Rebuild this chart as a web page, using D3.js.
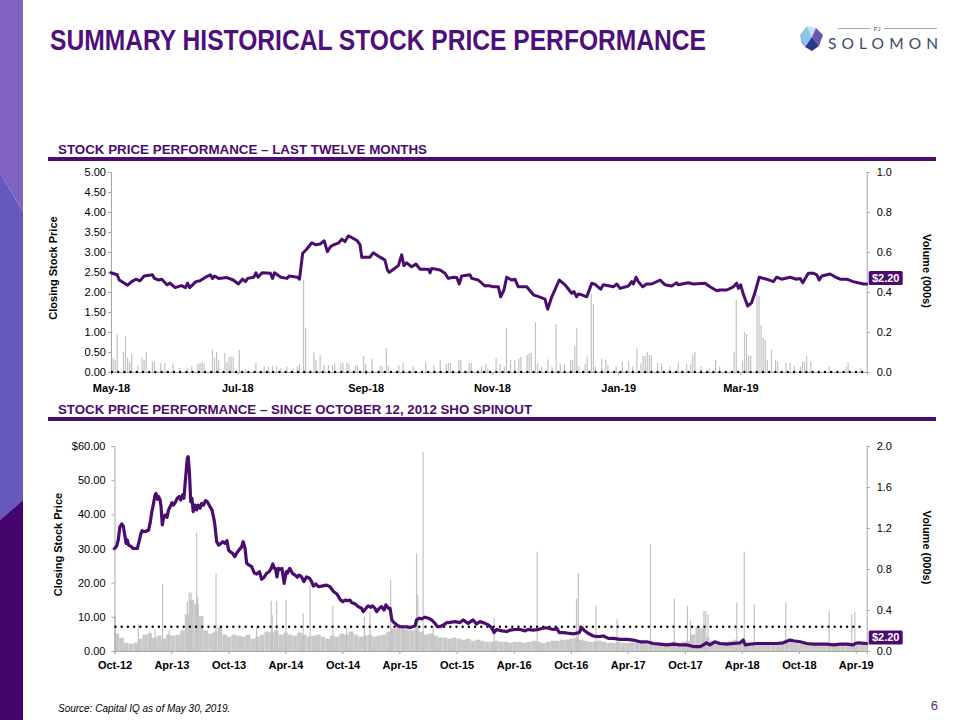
<!DOCTYPE html>
<html><head><meta charset="utf-8">
<script src="https://cdn.jsdelivr.net/npm/d3@7"></script>
<style>
body{margin:0;background:#fff}
svg{display:block}
text{font-family:Arial,"Liberation Sans",Helvetica,sans-serif}
</style>
</head><body>
<svg id="c" width="960" height="720"></svg>
<script>
// ---------------- DATA ----------------
const ltmStart = "2018-05-30", ltmEnd = "2019-05-30";
const ltmTickDates = ["2018-05-30","2018-07-30","2018-09-30","2018-11-30","2019-01-30","2019-03-30"];
const ltmPriceTicks = [0,0.5,1,1.5,2,2.5,3,3.5,4,4.5,5];
const ltmVolTicks = [0,0.2,0.4,0.6,0.8,1.0];
const ltmRefPrice = 0;
// [days since ltmStart, closing price]
const ltmPrice = [[0,2.48],[3,2.43],[4,2.30],[8,2.17],[10,2.26],[12,2.32],[14,2.28],[16,2.40],[20,2.43],[21,2.34],[23,2.30],[24.5,2.32],[27,2.18],[28.5,2.22],[31,2.11],[34,2.16],[36,2.11],[37,2.22],[38,2.11],[41,2.26],[43,2.28],[46,2.38],[48,2.43],[49,2.34],[50,2.40],[52,2.34],[56,2.36],[59,2.30],[61.5,2.20],[63.5,2.32],[65,2.26],[66,2.34],[69,2.37],[70,2.48],[71,2.37],[73,2.48],[77,2.47],[78,2.34],[79,2.48],[82,2.37],[85,2.34],[86,2.40],[90,2.37],[91,2.32],[92.6,2.97],[94.5,3.07],[97,3.23],[99,3.18],[101,3.20],[103,3.28],[104.5,3.01],[106,3.13],[107.5,3.18],[110,3.23],[111.5,3.32],[113,3.26],[114.6,3.40],[116,3.37],[119,3.28],[120.3,3.18],[121.1,2.87],[125,2.87],[126.7,2.98],[129,2.90],[131,2.84],[132.3,2.80],[133.5,2.55],[134.4,2.49],[136.4,2.57],[138.8,2.66],[140.4,2.93],[141.5,2.66],[142.8,2.73],[145.2,2.63],[147.3,2.70],[149.2,2.57],[153.3,2.57],[154.1,2.48],[154.9,2.59],[158.9,2.55],[161.3,2.47],[162.9,2.34],[165.3,2.37],[167,2.36],[168.2,2.20],[169.4,2.40],[173.4,2.43],[174.2,2.34],[177.4,2.30],[180.6,2.15],[182.2,2.16],[184.7,2.13],[187.1,2.13],[188.2,1.88],[189.8,2.05],[191.1,2.37],[193.5,2.30],[195.1,2.32],[196.7,2.13],[200.8,2.13],[204,1.93],[207.2,1.87],[209.6,1.82],[210.9,1.57],[212.9,1.88],[216.5,2.30],[219.3,2.18],[222.5,1.97],[223.6,2.01],[224.9,1.88],[225.7,1.95],[227.3,1.93],[229.8,1.88],[232.2,2.22],[233.8,2.19],[236.5,2.07],[237.8,2.18],[241,2.15],[242.6,2.13],[244.3,2.20],[245.9,2.09],[249.9,2.15],[251.5,2.26],[252.3,2.20],[253.6,2.37],[254.7,2.26],[256.8,2.13],[258.7,2.20],[261.2,2.20],[265.2,2.30],[267.6,2.18],[270.8,2.15],[273.2,2.23],[274,2.18],[278.8,2.23],[281.3,2.20],[286.9,2.22],[289.3,2.13],[292.6,2.03],[294.1,2.05],[297.4,2.05],[300.6,2.13],[302.2,2.22],[303,2.09],[304.1,2.18],[305.4,1.95],[307.5,1.65],[309.4,1.73],[311,1.98],[313.1,2.37],[316.7,2.32],[319.9,2.26],[321.5,2.37],[323.9,2.32],[327.9,2.37],[331.2,2.32],[332.8,2.34],[334.1,2.23],[336.8,2.47],[339.2,2.47],[340.9,2.43],[342.1,2.30],[343.3,2.40],[347.3,2.45],[349.7,2.38],[352.1,2.32],[355.3,2.32],[358.5,2.26],[363.4,2.20],[365,2.20]];
// [days since ltmStart, volume (000s)]
const ltmVolume = [[1,0.07],[2,0.06],[3,0.185],[6,0.10],[7,0.18],[8,0.07],[9,0.05],[10,0.09],[13,0.03],[15,0.07],[16,0.06],[17,0.10],[20,0.05],[21,0.05],[24,0.043],[26,0.045],[30,0.043],[33,0.02],[37,0.018],[39,0.027],[42,0.04],[43,0.045],[44,0.05],[45,0.043],[49,0.11],[50,0.07],[51,0.10],[52,0.06],[55,0.095],[56,0.05],[57,0.077],[58,0.077],[59,0.077],[62,0.11],[65,0.018],[70,0.045],[74,0.027],[76,0.027],[78,0.03],[80,0.027],[82,0.018],[85,0.027],[88,0.018],[90,0.027],[91,0.04],[93,0.46],[94,0.22],[98,0.10],[99,0.06],[101,0.085],[103,0.035],[105,0.035],[107,0.035],[108,0.043],[111,0.043],[112,0.047],[114,0.047],[115,0.04],[118,0.03],[119,0.035],[122,0.08],[123,0.04],[126,0.065],[130,0.03],[131,0.027],[133,0.12],[134,0.03],[139,0.035],[141,0.045],[146,0.03],[152,0.05],[156,0.03],[159,0.06],[162,0.04],[163,0.045],[164,0.045],[168,0.06],[169,0.06],[173,0.045],[174,0.045],[179,0.027],[181,0.04],[182,0.018],[186,0.068],[188,0.04],[190,0.027],[191,0.22],[193,0.06],[195,0.06],[197,0.068],[198,0.077],[201,0.085],[202,0.093],[203,0.097],[205,0.25],[206,0.043],[208,0.027],[211,0.063],[213,0.027],[215,0.24],[217,0.043],[219,0.04],[222,0.06],[223,0.06],[224,0.13],[225,0.22],[226,0.027],[229,0.04],[230,0.077],[232,0.39],[233,0.34],[234,0.027],[237,0.068],[239,0.06],[240,0.035],[244,0.027],[247,0.052],[250,0.052],[252,0.027],[254,0.12],[256,0.043],[257,0.08],[258,0.08],[259,0.10],[260,0.085],[261,0.085],[264,0.047],[266,0.043],[270,0.027],[274,0.047],[278,0.04],[280,0.04],[281,0.085],[282,0.10],[285,0.027],[289,0.018],[292,0.06],[294,0.027],[301,0.10],[302,0.36],[305,0.057],[306,0.20],[307,0.19],[308,0.08],[309,0.085],[312,0.39],[313,0.38],[314,0.235],[315,0.17],[316,0.16],[317,0.06],[319,0.11],[321,0.06],[322,0.052],[326,0.047],[328,0.047],[330,0.03],[333,0.027],[334,0.052],[335,0.052],[336,0.08],[338,0.052],[347,0.027],[355,0.027],[356,0.047],[362,0.018]];

const spinStart = "2012-10-12", spinEnd = "2019-05-17";
const spinTickDates = ["2012-10-12","2013-04-12","2013-10-12","2014-04-12","2014-10-12","2015-04-12","2015-10-12","2016-04-12","2016-10-12","2017-04-12","2017-10-12","2018-04-12","2018-10-12","2019-04-12"];
const spinPriceTicks = [0,10,20,30,40,50,60];
const spinVolTicks = [0,0.4,0.8,1.2,1.6,2.0];
const spinRefPrice = 7.1;
// [days since spinStart, closing price]
const spinPrice = [[0,30.0],[7,30.7],[12,32.5],[17,36.2],[23,37.2],[28,36.6],[33,33.9],[37,31.5],[41,32.5],[45,31.0],[52,30.7],[60,30.0],[73,30.0],[80,32.5],[84,34.2],[88,35.2],[98,34.9],[109,35.4],[114,37.4],[119,40.5],[125,43.2],[130,45.7],[133,46.1],[138,44.4],[141,45.2],[146,44.2],[149,42.2],[153,36.9],[157,39.1],[162,39.8],[168,39.1],[173,41.3],[178,42.2],[184,43.4],[188,42.7],[193,43.2],[201,44.7],[207,45.2],[212,44.2],[218,45.7],[222,44.7],[227,50.0],[233,56.4],[236,56.9],[240,52.0],[244,43.7],[248,44.7],[252,40.8],[258,42.7],[263,41.3],[268,42.7],[274,41.8],[279,43.2],[285,42.7],[291,44.0],[297,43.7],[306,42.2],[312,41.3],[319,38.3],[322,36.4],[327,32.0],[333,31.0],[338,31.3],[347,32.0],[354,31.5],[360,32.3],[365,29.6],[370,29.1],[378,28.6],[385,27.6],[391,28.6],[399,29.6],[407,30.5],[412,32.0],[418,30.0],[423,25.7],[430,25.2],[439,24.7],[447,22.9],[455,22.5],[464,23.2],[471,21.0],[479,21.6],[487,22.7],[495,23.2],[500,23.9],[507,25.5],[511,24.2],[515,24.2],[520,21.7],[525,24.2],[530,23.9],[536,24.2],[543,19.8],[550,23.2],[553,22.7],[561,24.2],[570,22.7],[578,22.2],[585,21.6],[591,22.2],[599,21.7],[606,20.3],[615,21.7],[624,21.3],[631,20.3],[637,19.0],[645,19.6],[653,18.8],[663,19.0],[679,19.3],[690,18.8],[701,17.4],[712,16.7],[722,15.1],[731,14.4],[738,14.9],[746,14.7],[754,14.9],[760,14.1],[770,13.8],[780,13.0],[791,12.5],[796,11.5],[805,12.5],[812,13.2],[820,12.8],[826,13.2],[834,12.5],[839,11.5],[848,12.5],[855,13.0],[863,12.0],[869,13.5],[877,12.5],[882,12.5],[888,9.1],[895,8.3],[904,7.6],[914,7.1],[930,7.1],[946,6.9],[962,7.3],[967,9.1],[976,9.6],[983,9.4],[994,9.9],[1005,9.6],[1015,9.1],[1026,8.1],[1034,7.1],[1042,7.1],[1053,7.6],[1064,8.3],[1074,8.4],[1090,8.6],[1106,8.3],[1116,9.1],[1132,8.1],[1148,9.1],[1159,7.9],[1170,8.6],[1186,8.1],[1197,7.6],[1207,6.9],[1215,5.4],[1223,6.3],[1240,5.9],[1256,5.7],[1266,6.1],[1282,6.3],[1298,6.3],[1314,5.9],[1324,6.3],[1340,6.1],[1357,6.3],[1367,6.6],[1383,6.8],[1405,6.3],[1416,6.6],[1424,5.4],[1437,5.4],[1453,5.2],[1469,5.0],[1488,5.4],[1495,6.9],[1503,6.1],[1516,5.2],[1533,4.4],[1549,4.2],[1565,4.4],[1581,3.7],[1597,3.7],[1618,3.4],[1640,3.4],[1661,3.2],[1683,2.7],[1704,2.7],[1725,2.2],[1746,2.0],[1768,1.8],[1789,2.0],[1810,1.8],[1832,1.8],[1853,1.3],[1875,1.3],[1885,1.8],[1895,2.4],[1906,1.8],[1922,2.7],[1938,2.2],[1960,2.0],[1981,2.2],[2003,2.4],[2013,3.2],[2019,1.8],[2035,2.0],[2056,2.2],[2077,2.2],[2098,2.2],[2120,2.2],[2141,2.4],[2162,3.2],[2173,3.0],[2195,2.7],[2216,2.2],[2238,2.0],[2259,2.0],[2280,2.0],[2302,1.8],[2323,2.0],[2344,2.0],[2365,1.8],[2371,2.2],[2381,2.4],[2408,2.2]];
// typical daily volume (000s) per half-month period since spinStart
const spinVolBase = [0.17,0.13,0.08,0.07,0.08,0.12,0.16,0.17,0.13,0.15,0.12,0.16,
  0.15,0.16,0.20,0.36,0.50,0.46,0.34,0.20,0.17,0.19,0.23,0.16,
  0.14,0.16,0.15,0.14,0.16,0.12,0.14,0.16,0.19,0.18,0.20,0.16,0.18,0.16,0.15,0.18,0.16,0.14,0.15,0.16,0.14,0.12,0.15,0.14,
  0.17,0.16,0.19,0.16,0.14,0.15,0.16,0.14,0.15,0.16,0.19,0.22,0.24,0.23,0.21,0.20,0.22,0.19,0.16,0.17,0.15,0.13,0.13,0.12,
  0.13,0.12,0.11,0.12,0.10,0.11,0.10,0.09,0.09,0.10,
  0.09,0.09,0.08,0.09,0.09,0.08,0.09,0.10,0.09,0.08,
  0.09,0.10,0.10,0.11,0.11,0.12,0.13,0.11,0.10,0.09,
  0.09,0.10,0.09,0.08,0.08,0.09,0.08,0.08,0.08,0.09,
  0.08,0.07,0.07,0.08,0.08,0.07,0.08,0.09,0.08,0.09,
  0.10,0.16,0.24,0.22,0.13,0.10,0.08,0.08,0.09,0.10,
  0.11,0.09,0.08,0.08,0.08,0.07,0.07,0.08,0.08,0.09,
  0.08,0.08,0.09,0.08,0.07,0.07,0.07,0.08,0.08,0.07,
  0.07,0.07,0.07,0.08,0.08,0.07,0.07,0.07,0.07];
// [days since spinStart, volume (000s)] notable single days
const spinVolSpikes = [[2,0.34],[76,0.26],[114,0.19],[130,0.20],[154,0.65],[175,0.20],[233,0.48],[239,0.57],[245,0.57],[263,1.15],[266,0.53],[325,0.76],[455,0.24],[502,0.49],[505,0.35],[519,0.49],[549,0.50],[604,0.37],[626,0.65],[699,0.44],[743,0.24],[800,0.33],[818,0.38],[884,0.69],[924,0.20],[967,0.95],[971,0.55],[988,1.94],[1020,0.24],[1215,0.32],[1353,0.97],[1479,0.51],[1485,0.76],[1541,0.44],[1609,0.31],[1716,1.04],[1792,0.51],[1834,0.44],[1844,0.30],[1887,0.39],[1893,0.39],[1900,0.36],[1992,0.47],[2016,0.97],[2048,0.46],[2149,0.47],[2288,0.39],[2360,0.36],[2370,0.38]];
const lastPrice = 2.20;

// ---------------- DRAWING ----------------
const PURPLE = "#4b0c70";
const svg = d3.select("#c");
const parse = d3.timeParse("%Y-%m-%d");
const fmtMon = d3.timeFormat("%b-%y");

// left decorative strip
svg.append("polygon").attr("points","0,0 23,0 23,212 0,173").attr("fill","#8163c2");
svg.append("polygon").attr("points","0,173 23,212 23,500 0,520").attr("fill","#6559bd");
svg.append("polygon").attr("points","0,520 23,500 23,720 0,720").attr("fill","#44066d");

// title
svg.append("text").attr("x",50).attr("y",50).attr("font-size",29).attr("font-weight","bold")
  .attr("fill","#4f0f7a").attr("textLength",656).attr("lengthAdjust","spacingAndGlyphs")
  .text("SUMMARY HISTORICAL STOCK PRICE PERFORMANCE");

// logo
const logo = svg.append("g");
logo.append("polygon").attr("points","800,35 807,26 812,37 805,47").attr("fill","#8fc4ea");
logo.append("polygon").attr("points","807,26 816,28 812,37").attr("fill","#c3e0f5");
logo.append("polygon").attr("points","816,28 823,35 819,46 812,37").attr("fill","#6a55b4");
logo.append("polygon").attr("points","805,47 812,37 819,46 812,51").attr("fill","#283a8c");
logo.append("polygon").attr("points","800,35 805,47 802,43").attr("fill","#4f86cf");
logo.append("line").attr("x1",838).attr("x2",870).attr("y1",28.5).attr("y2",28.5).attr("stroke","#8a8f9c").attr("stroke-width",0.8);
logo.append("line").attr("x1",884).attr("x2",937).attr("y1",28.5).attr("y2",28.5).attr("stroke","#8a8f9c").attr("stroke-width",0.8);
logo.append("text").attr("x",877).attr("y",30.5).attr("text-anchor","middle").attr("font-size",6).attr("fill","#555d70").text("PJ");
logo.append("text").attr("x",828).attr("y",48.5).attr("font-size",15.5).attr("fill","#3b4869")
  .attr("textLength",110).attr("lengthAdjust","spacing").style("font-family","Lato, 'Open Sans', sans-serif").text("SOLOMON");

// section headers
function header(txt, y, len){
  svg.append("text").attr("x",58).attr("y",y).attr("font-size",12.5).attr("font-weight","bold")
    .attr("fill",PURPLE).attr("textLength",len).attr("lengthAdjust","spacingAndGlyphs").text(txt);
  svg.append("rect").attr("x",48).attr("y",y+3).attr("width",888).attr("height",4).attr("fill",PURPLE);
}
header("STOCK PRICE PERFORMANCE \u2013 LAST TWELVE MONTHS", 154, 369);
header("STOCK PRICE PERFORMANCE \u2013 SINCE OCTOBER 12, 2012 SHO SPINOUT", 414, 474);

function styleAxis(g){
  g.select(".domain").attr("stroke","#a6a6a6");
  g.selectAll(".tick line").attr("stroke","#a6a6a6");
  g.selectAll(".tick text").attr("fill","#000").style("font-family","Arial, 'Liberation Sans', sans-serif");
}

function panel(cfg){
  const t0 = parse(cfg.start);
  const dayDate = d => new Date(t0.getTime() + d*864e5);
  const x = d3.scaleTime().domain([t0, parse(cfg.end)]).range([cfg.left, cfg.right]);
  const yP = d3.scaleLinear().domain([0, d3.max(cfg.pTicks)]).range([cfg.bottom, cfg.top]);
  const yV = d3.scaleLinear().domain([0, d3.max(cfg.vTicks)]).range([cfg.bottom, cfg.top]);
  const g = svg.append("g");

  // base volume periods
  if (cfg.volBase){
    g.append("g").selectAll("rect").data(cfg.volBase).join("rect")
      .attr("x", (v,i) => x(dayDate(i*cfg.baseStep)))
      .attr("width", (v,i) => Math.max(0, Math.min(x(dayDate((i+1)*cfg.baseStep)), cfg.right) - x(dayDate(i*cfg.baseStep))))
      .attr("y", v => yV(v)).attr("height", v => cfg.bottom - yV(v))
      .attr("fill", "#c9c9c9");
  }
  // volume bars
  g.append("g").selectAll("rect").data(cfg.vol).join("rect")
    .attr("x", d => x(dayDate(d[0])) - 0.6).attr("width", 1.2)
    .attr("y", d => yV(d[1])).attr("height", d => cfg.bottom - yV(d[1]))
    .attr("fill", "#c2c2c2");

  // axes
  const la = g.append("g").attr("transform",`translate(${cfg.left},0)`)
    .call(d3.axisLeft(yP).tickValues(cfg.pTicks).tickSize(3).tickPadding(cfg.lPad).tickFormat(cfg.pFmt));
  la.selectAll("text").attr("font-size",11);
  styleAxis(la);
  const ra = g.append("g").attr("transform",`translate(${cfg.right},0)`)
    .call(d3.axisRight(yV).tickValues(cfg.vTicks).tickSize(3).tickPadding(7).tickFormat(d3.format(".1f")));
  ra.selectAll("text").attr("font-size",11);
  styleAxis(ra);
  const ba = g.append("g").attr("transform",`translate(0,${cfg.bottom})`)
    .call(d3.axisBottom(x).tickValues(cfg.ticks.map(parse)).tickSize(3).tickPadding(cfg.bPad).tickFormat(fmtMon));
  ba.selectAll("text").attr("font-size",11).attr("font-weight","bold");
  styleAxis(ba);

  // dotted reference line
  g.append("line").attr("x1",cfg.left+1).attr("x2",cfg.right-2)
    .attr("y1",yP(cfg.ref)).attr("y2",yP(cfg.ref))
    .attr("stroke","#000").attr("stroke-width",2.4).attr("stroke-linecap","round")
    .attr("stroke-dasharray","0 6.2");

  // price line
  g.append("path").datum(cfg.price)
    .attr("d", d3.line().x(d => x(dayDate(d[0]))).y(d => yP(d[1])))
    .attr("fill","none").attr("stroke",PURPLE).attr("stroke-width",cfg.lw)
    .attr("stroke-linejoin","round").attr("stroke-linecap","round");

  // last price label
  const cy = yP(lastPrice) - 6;
  g.append("rect").attr("x",cfg.right+2).attr("y",cy-7).attr("width",34).attr("height",14).attr("rx",1.5).attr("fill",PURPLE);
  g.append("text").attr("x",cfg.right+19).attr("y",cy+4).attr("text-anchor","middle")
    .attr("font-size",11).attr("font-weight","bold").attr("fill","#fff").text("$" + d3.format(".2f")(lastPrice));

  // axis titles
  const cyMid = (cfg.top + cfg.bottom)/2;
  g.append("text").attr("transform",`translate(${cfg.ylx},${cyMid - 4}) rotate(-90)`)
    .attr("text-anchor","middle").attr("font-size",11).attr("font-weight","bold").text("Closing Stock Price");
  g.append("text").attr("transform",`translate(923,${cyMid - 1}) rotate(90)`)
    .attr("text-anchor","middle").attr("font-size",11).attr("font-weight","bold").text("Volume  (000s)");
}

panel({start:ltmStart, end:ltmEnd, left:111, right:866.7, top:172, bottom:372,
  pTicks:ltmPriceTicks, vTicks:ltmVolTicks, ticks:ltmTickDates, pFmt:d3.format(".2f"),
  price:ltmPrice, vol:ltmVolume, ref:ltmRefPrice, lPad:2, bPad:9, lw:3, ylx:57});

panel({start:spinStart, end:spinEnd, left:114.5, right:866.7, top:446, bottom:651,
  pTicks:spinPriceTicks, vTicks:spinVolTicks, ticks:spinTickDates,
  pFmt:d => (d === 60 ? "$" : "") + d3.format(".2f")(d),
  price:spinPrice, vol:spinVolSpikes, volBase:spinVolBase, baseStep:15, ref:spinRefPrice, lPad:6, bPad:7, lw:3.2, ylx:62});

// footer
svg.append("text").attr("x",58).attr("y",712).attr("font-size",10).attr("font-style","italic").attr("fill","#000")
  .text("Source: Capital IQ as of May 30, 2019.");
svg.append("text").attr("x",938).attr("y",710).attr("text-anchor","end").attr("font-size",13).attr("fill","#5b2a86").text("6");
</script>
</body></html>
